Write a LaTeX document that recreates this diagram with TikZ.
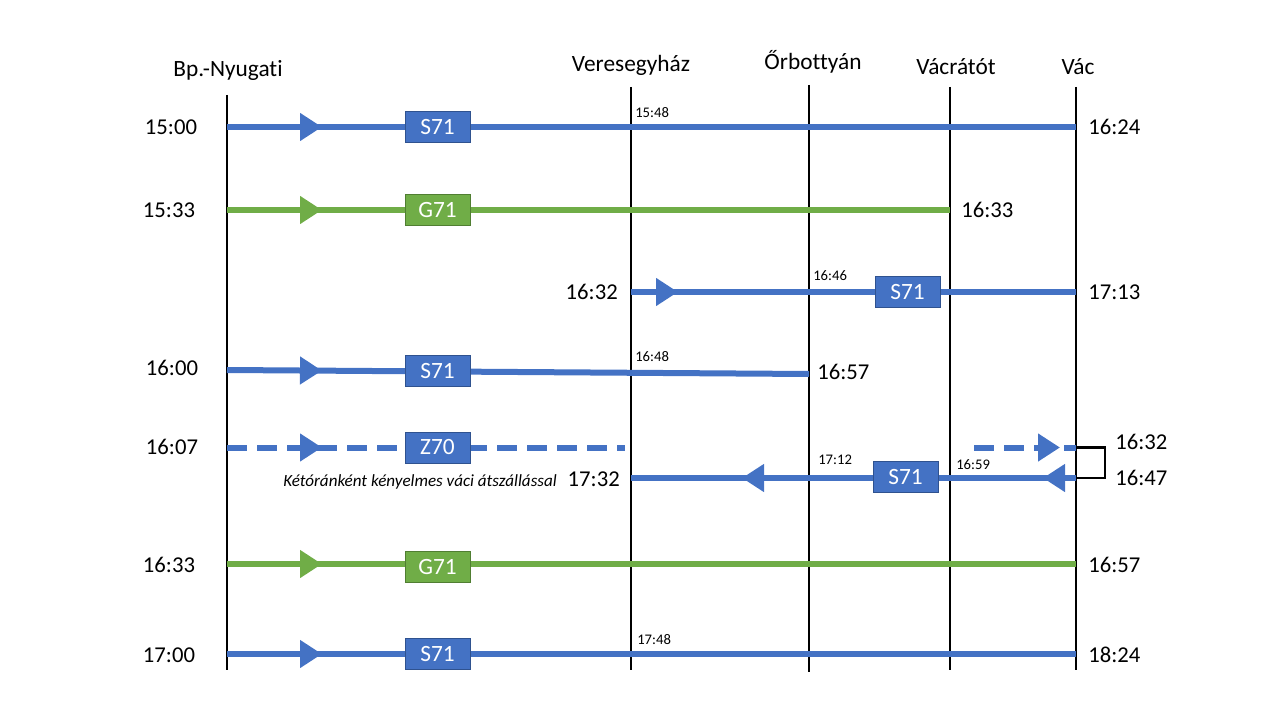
\documentclass[tikz,border=0pt]{standalone}
\usepackage{fontspec}
\setmainfont{Carlito}[Ligatures=NoCommon]
\usetikzlibrary{arrows.meta,decorations.markings}
\definecolor{LineBlue}{HTML}{4472C4}
\definecolor{LineBlueDark}{HTML}{2F528F}
\definecolor{LineGreen}{HTML}{70AD47}
\definecolor{LineGreenDark}{HTML}{507E32}
\tikzset{
  headtip/.tip={Triangle[length=16.5pt,width=20pt]},
  station/.style={font=\fontsize{17.5}{20}\selectfont,inner sep=0pt,anchor=base},
  stline/.style={draw=black,line width=1pt},
  tlabel/.style={font=\fontsize{17}{20}\selectfont,inner sep=0pt},
  tsmall/.style={font=\fontsize{11}{13}\selectfont,inner sep=0pt,anchor=west},
  sbox/.style={draw=LineBlueDark,fill=LineBlue,text=white,line width=0.75pt,minimum width=48.75pt,minimum height=23.25pt,inner sep=0pt,font=\fontsize{17.5}{20}\selectfont},
  gbox/.style={sbox,draw=LineGreenDark,fill=LineGreen},
  sline/.style={draw=LineBlue,line width=4.5pt},
  gline/.style={draw=LineGreen,line width=4.5pt},
  dline/.style={sline,dash pattern=on 15pt off 7.5pt},
  headat/.style={postaction={decorate},decoration={markings,mark=at position #1 with {\arrow{headtip}}}},
  bracket/.style={draw=black,line width=2pt}
}
\begin{document}
\begin{tikzpicture}[x=0.75pt,y=-0.75pt]
  \useasboundingbox (0,0) rectangle (1280,720);
  % stations
  \node[station] (nyugati) at (228,77) {Bp.-Nyugati};
  \node[station] (veresegyhaz) at (631,72) {Veresegyház};
  \node[station] (orbottyan) at (813,70) {Őrbottyán};
  \node[station] (vacratot) at (956,75) {Vácrátót};
  \node[station] (vac) at (1078,75) {Vác};
  \coordinate (nyugatiTop) at (227,95);
  \coordinate (nyugatiBot) at (227,670);
  \coordinate (veresTop) at (631,87);
  \coordinate (veresBot) at (631,670);
  \coordinate (orbTop) at (809,85);
  \coordinate (orbBot) at (809,672);
  \coordinate (ratotTop) at (950,87);
  \coordinate (ratotBot) at (950,670);
  \coordinate (vacTop) at (1076,87);
  \coordinate (vacBot) at (1076,670);
  \draw[stline] (nyugatiTop) -- (nyugatiBot);
  \draw[stline] (veresTop) -- (veresBot);
  \draw[stline] (orbTop) -- (orbBot);
  \draw[stline] (ratotTop) -- (ratotBot);
  \draw[stline] (vacTop) -- (vacBot);

  % S71 15:00
  \coordinate (r1a) at (227,127);
  \coordinate (r1b) at (1076,127);
  \draw[sline,headat=71.25pt] (r1a) -- (r1b);
  \node[sbox] (r1box) at (437.5,127) {S71};
  \node[tlabel] (r1dep) at (171,127) {15:00};
  \node[tlabel,anchor=west] (r1arr) at (1088,127) {16:24};
  \node[tsmall] (r1mid) at (635,113) {15:48};

  % G71 15:33
  \coordinate (r2a) at (227,210);
  \coordinate (r2b) at (950,210);
  \draw[gline,headat=71.25pt] (r2a) -- (r2b);
  \node[gbox] (r2box) at (437.5,210) {G71};
  \node[tlabel] (r2dep) at (169,210) {15:33};
  \node[tlabel,anchor=west] (r2arr) at (961,210) {16:33};

  % S71 16:32 from Veresegyhaz
  \coordinate (r3a) at (631,292);
  \coordinate (r3b) at (1076,292);
  \draw[sline,headat=35.25pt] (r3a) -- (r3b);
  \node[sbox] (r3box) at (907.5,292) {S71};
  \node[tlabel,anchor=east] (r3dep) at (618,292) {16:32};
  \node[tlabel,anchor=west] (r3arr) at (1088,292) {17:13};
  \node[tsmall] (r3mid) at (813,276) {16:46};

  % S71 16:00
  \coordinate (r4a) at (227,370);
  \coordinate (r4b) at (809,374);
  \draw[sline,headat=71.25pt] (r4a) -- (r4b);
  \node[sbox] (r4box) at (437.5,371) {S71};
  \node[tlabel] (r4dep) at (172,368) {16:00};
  \node[tlabel,anchor=west] (r4arr) at (817,372) {16:57};
  \node[tsmall] (r4mid) at (635,357) {16:48};

  % Z70 16:07
  \coordinate (r5a) at (227,447.5);
  \coordinate (r5b) at (625,447.5);
  \coordinate (r5c) at (974,447.5);
  \coordinate (r5d) at (1076,447.5);
  \draw[dline,headat=71.25pt] (r5a) -- (r5b);
  \draw[dline,headat=64.5pt] (r5c) -- (r5d);
  \node[sbox] (r5box) at (437.5,447.5) {Z70};
  \node[tlabel] (r5dep) at (172,447) {16:07};
  \node[font=\fontsize{12.8}{15}\selectfont\itshape,inner sep=0pt] (r5note) at (420,482) {Kétóránként kényelmes váci átszállással};
  \node[tlabel,anchor=west] (r5arr) at (1115,442) {16:32};

  % S71 back from Vac
  \coordinate (r6a) at (1076,478);
  \coordinate (r6b) at (631,478);
  \draw[sline,postaction={decorate},decoration={markings,
      mark=at position 24.75pt with {\arrow{headtip}},
      mark=at position 250.5pt with {\arrow{headtip}}}] (r6a) -- (r6b);
  \node[sbox] (r6box) at (905.5,477) {S71};
  \node[tlabel,anchor=east] (r6arr) at (620,479) {17:32};
  \node[tlabel,anchor=west] (r6dep) at (1115,478) {16:47};
  \node[tsmall] (r6mid) at (818,460) {17:12};
  \node[tsmall] (r6mid2) at (956,465) {16:59};
  \coordinate (brA) at (1105,447.5);
  \coordinate (brB) at (1105,478);
  \draw[bracket] (r5d) -- (brA) -- (brB) -- (r6a);

  % G71 16:33
  \coordinate (r7a) at (227,564);
  \coordinate (r7b) at (1076,564);
  \draw[gline,headat=71.25pt] (r7a) -- (r7b);
  \node[gbox] (r7box) at (437.5,567) {G71};
  \node[tlabel] (r7dep) at (169,565) {16:33};
  \node[tlabel,anchor=west] (r7arr) at (1088,565) {16:57};

  % S71 17:00
  \coordinate (r8a) at (227,654);
  \coordinate (r8b) at (1076,654);
  \draw[sline,headat=71.25pt] (r8a) -- (r8b);
  \node[sbox] (r8box) at (437.5,654) {S71};
  \node[tlabel] (r8dep) at (169,655) {17:00};
  \node[tlabel,anchor=west] (r8arr) at (1088,655) {18:24};
  \node[tsmall] (r8mid) at (637,640) {17:48};
\end{tikzpicture}
\end{document}
